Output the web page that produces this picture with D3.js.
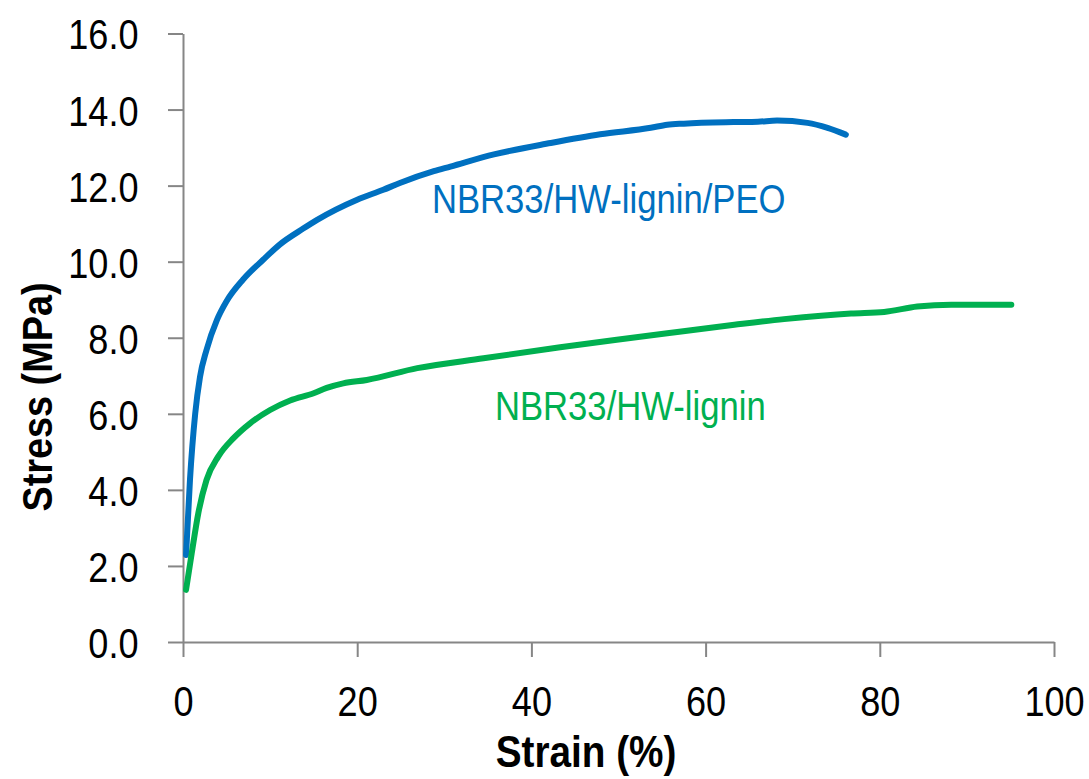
<!DOCTYPE html>
<html>
<head>
<meta charset="utf-8">
<script src="https://cdn.jsdelivr.net/npm/d3@7"></script>
<style>
  body { margin: 0; background: #fff; }
  svg { display: block; font-family: "Liberation Sans", Arial, sans-serif; }
</style>
</head>
<body>
<svg id="chart"></svg>
<script>
// strain (%) and stress (MPa)
const peoStrain = [0.35, 0.8, 1.4, 1.95, 2.7, 3.9, 5.0, 6.9, 9.2, 11.1, 13.8, 15.4, 20.0, 23.0, 24.9, 28.8, 30.7, 35.7, 42.2, 47.9, 53.7, 55.6, 57.5, 63.2, 66.0, 68.2, 71.7, 74.0, 76.1];
const peoStress = [2.29, 4.26, 6.0, 6.97, 7.68, 8.47, 8.96, 9.53, 10.05, 10.45, 10.87, 11.1, 11.63, 11.89, 12.07, 12.38, 12.5, 12.82, 13.12, 13.35, 13.52, 13.6, 13.63, 13.67, 13.68, 13.71, 13.65, 13.52, 13.34];

const ligStrain = [0.35, 1.0, 1.76, 2.7, 4.06, 5.8, 7.7, 10.0, 12.3, 15.0, 16.5, 18.4, 21.1, 26.9, 34.5, 43.3, 49.8, 55.6, 63.3, 69.0, 76.7, 80.5, 84.3, 88.2, 95.1];
const ligStress = [1.37, 2.33, 3.39, 4.26, 4.88, 5.36, 5.75, 6.1, 6.35, 6.54, 6.68, 6.8, 6.89, 7.2, 7.46, 7.75, 7.95, 8.12, 8.34, 8.49, 8.64, 8.68, 8.82, 8.87, 8.87];

const xTicks = [0, 20, 40, 60, 80, 100];
const yTicks = [0, 2, 4, 6, 8, 10, 12, 14, 16];

const seriesNames = ["NBR33/HW-lignin/PEO", "NBR33/HW-lignin"];
const seriesColors = ["#0070C0", "#00B050"];

const width = 1089, height = 779;
const margin = { top: 33.5, right: 35, bottom: 137, left: 183 };
const squeeze = 0.84;

const svg = d3.select("#chart").attr("width", width).attr("height", height);

const x = d3.scaleLinear().domain([0, 100]).range([margin.left, width - margin.right]);
const y = d3.scaleLinear().domain([0, 16]).range([height - margin.bottom, margin.top]);

const axisColor = "#868686";

// x axis
const xAxis = svg.append("g")
    .attr("transform", `translate(0, ${y(0)})`)
    .call(d3.axisBottom(x).tickValues(xTicks).tickSize(15).tickSizeOuter(0).tickPadding(28));
xAxis.select(".domain").attr("stroke", axisColor).attr("stroke-width", 2);
xAxis.selectAll(".tick line").attr("stroke", axisColor).attr("stroke-width", 2);
xAxis.selectAll(".tick text")
    .attr("fill", "#000")
    .style("font-size", "43px")
    .attr("dy", "0.71em")
    .attr("transform", `scale(${squeeze},1)`);

// y axis
const yAxis = svg.append("g")
    .attr("transform", `translate(${x(0)}, 0)`)
    .call(d3.axisLeft(y).tickValues(yTicks).tickSize(15).tickSizeOuter(0).tickFormat(d3.format(".1f")));
yAxis.select(".domain").attr("stroke", axisColor).attr("stroke-width", 2);
yAxis.selectAll(".tick line").attr("stroke", axisColor).attr("stroke-width", 2);
yAxis.selectAll(".tick text")
    .attr("fill", "#000")
    .style("font-size", "43px")
    .attr("x", -44.5 / squeeze)
    .attr("dy", "0.36em")
    .attr("transform", `scale(${squeeze},1)`);

// curves
const line = d3.line()
    .x(d => x(d[0]))
    .y(d => y(d[1]))
    .curve(d3.curveMonotoneX);

const series = [
    d3.zip(peoStrain, peoStress),
    d3.zip(ligStrain, ligStress)
];

svg.append("g").selectAll("path")
    .data(series)
    .join("path")
    .attr("d", line)
    .attr("fill", "none")
    .attr("stroke", (d, i) => seriesColors[i])
    .attr("stroke-width", 6)
    .attr("stroke-linecap", "round")
    .attr("stroke-linejoin", "round");

// series labels
const labelPos = [[432, 212.5], [495, 420]];
svg.append("g").selectAll("text")
    .data(seriesNames)
    .join("text")
    .attr("transform", (d, i) => `translate(${labelPos[i][0]}, ${labelPos[i][1]}) scale(0.845,1)`)
    .attr("fill", (d, i) => seriesColors[i])
    .style("font-size", "41px")
    .text(d => d);

// axis titles
svg.append("text")
    .attr("transform", `translate(586, 767) scale(0.88,1)`)
    .attr("text-anchor", "middle")
    .style("font-size", "44px")
    .style("font-weight", "bold")
    .text("Strain (%)");

svg.append("text")
    .attr("transform", `translate(52, 397) rotate(-90) scale(0.88,1)`)
    .attr("text-anchor", "middle")
    .style("font-size", "43px")
    .style("font-weight", "bold")
    .text("Stress (MPa)");
</script>
</body>
</html>
